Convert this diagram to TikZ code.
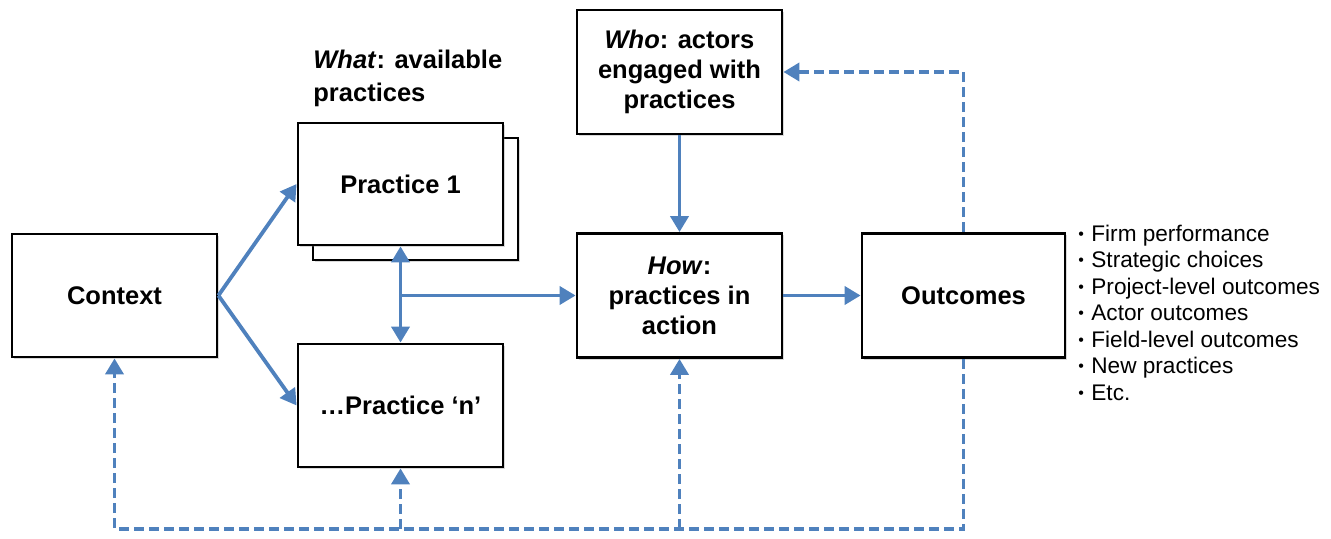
\documentclass[tikz,border=0pt]{standalone}
\usepackage{fontspec}
\setmainfont{Liberation Sans}
\usetikzlibrary{arrows.meta,shadows}
\definecolor{arrowblue}{HTML}{4F81BD}
\begin{document}
\begin{tikzpicture}[x=0.5pt,y=-0.5pt,
  box/.style={draw=black,line width=1.4pt,fill=white,inner sep=0pt,align=center,
    font=\fontsize{12.75}{15}\selectfont\bfseries,
    drop shadow={shadow xshift=1pt,shadow yshift=-1pt,opacity=0.3}},
  tipb/.tip={Triangle[width=9pt,length=8pt]},
  link/.style={draw=arrowblue,line width=1.9pt,-tipb},
  fb/.style={link,dash pattern=on 5pt off 2.5pt}]
\useasboundingbox (0,0) rectangle (1331,539);
% boxes
\node[box,minimum width=102.5pt,minimum height=61.5pt] (ctx) at (114.5,295.5) {Context};
\node[box,minimum width=102.5pt,minimum height=61pt] (p1back) at (415.5,199) {};
\node[box,minimum width=102.5pt,minimum height=61pt] (p1) at (400.5,184) {Practice 1};
\node[box,minimum width=102.5pt,minimum height=61.5pt] (pn) at (400.5,405.5) {\dots Practice `n'};
\node[box,minimum width=102.5pt,minimum height=62pt] (who) at (679.5,72) {\textit{Who}: actors\\engaged with\\practices};
\node[box,minimum width=102.5pt,minimum height=62pt] (how) at (679.5,295.5) {\textit{How}:\\practices in\\action};
\node[box,minimum width=101.5pt,minimum height=62pt] (out) at (963.5,295.5) {Outcomes};
% labels
\node[anchor=west,align=left,inner sep=0pt,font=\fontsize{12.75}{16.5}\selectfont\bfseries] (what) at (313,78.5) {\textit{What}: available\\practices};
\node[anchor=west,align=left,inner sep=0pt,font=\fontsize{11.3}{13.25}\selectfont] (list) at (1078,312.5) {%
\makebox[6.5pt][l]{\raisebox{0.15ex}{\fontsize{8}{8}\selectfont\textbullet}}Firm performance\\
\makebox[6.5pt][l]{\raisebox{0.15ex}{\fontsize{8}{8}\selectfont\textbullet}}Strategic choices\\
\makebox[6.5pt][l]{\raisebox{0.15ex}{\fontsize{8}{8}\selectfont\textbullet}}Project-level outcomes\\
\makebox[6.5pt][l]{\raisebox{0.15ex}{\fontsize{8}{8}\selectfont\textbullet}}Actor outcomes\\
\makebox[6.5pt][l]{\raisebox{0.15ex}{\fontsize{8}{8}\selectfont\textbullet}}Field-level outcomes\\
\makebox[6.5pt][l]{\raisebox{0.15ex}{\fontsize{8}{8}\selectfont\textbullet}}New practices\\
\makebox[6.5pt][l]{\raisebox{0.15ex}{\fontsize{8}{8}\selectfont\textbullet}}Etc.};
% solid connectors
\draw[link] (ctx.east) -- (p1.west);
\draw[link] (ctx.east) -- (pn.west);
\draw[link,tipb-tipb] (p1.south) -- (pn.north);
\draw[link] (p1.south |- how.west) -- (how.west);
\draw[link] (who.south) -- (how.north);
\draw[link] (how.east) -- (out.west);
% feedback dashed
\coordinate (base) at (0,529);
\draw[fb] (out.north) -- (out.north |- who.east) -- (who.east);
\draw[fb] (out.south) -- (out.south |- base) -- (ctx.south |- base) -- (ctx.south);
\draw[fb] (pn.south |- base) -- (pn.south);
\draw[fb] (how.south |- base) -- (how.south);
\end{tikzpicture}
\end{document}
